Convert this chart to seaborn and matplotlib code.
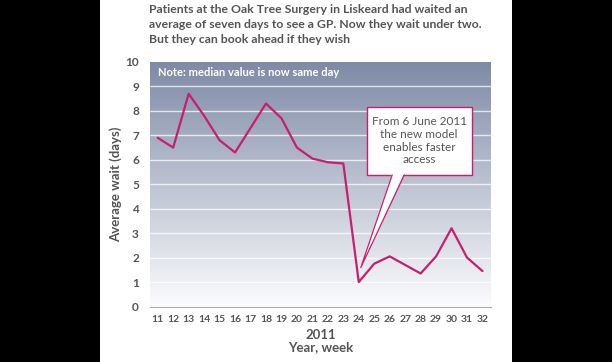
import numpy as np
import pandas as pd
import matplotlib
matplotlib.use("Agg")
import matplotlib.pyplot as plt
import seaborn as sns
from matplotlib.patches import Rectangle, Polygon, FancyBboxPatch

weeks = list(range(11, 33))
wait_days = [6.9, 6.5, 8.7, 7.8, 6.8, 6.3, 7.3, 8.3, 7.7, 6.5, 6.05, 5.9, 5.85,
             1.0, 1.75, 2.05, 1.7, 1.35, 2.05, 3.2, 2.0, 1.45]
y_ticks = list(range(0, 11))

title = ("Patients at the Oak Tree Surgery in Liskeard had waited an\n"
         "average of seven days to see a GP. Now they wait under two.\n"
         "But they can book ahead if they wish")
note = "Note: median value is now same day"
callout = "From 6 June 2011\nthe new model\nenables faster\naccess"

sns.set_theme(style="white")
plt.rcParams['font.family'] = ['Lato', 'DejaVu Sans']

grey = "#555555"
pink = "#c81e6e"

fig = plt.figure(figsize=(6.12, 3.62), dpi=100)
fig.patch.set_facecolor("black")
fig.patches.append(Rectangle((100/612, 0), 412/612, 1, transform=fig.transFigure,
                             facecolor="white", edgecolor="none", zorder=-10))

ax = fig.add_axes([150/612, 1 - 306.5/362, 341/612, 244.5/362])
ax.set_facecolor("none")

df = pd.DataFrame({"week": weeks, "wait": wait_days})

# gradient background
grad = np.linspace(0, 1, 256).reshape(-1, 1)
top = np.array([126, 138, 166]) / 255
bot = np.array([252, 252, 254]) / 255
img = top[None, None, :] * (1 - grad[:, :, None]) + bot[None, None, :] * grad[:, :, None]
ax.imshow(img, extent=[0, 1, 0, 1], transform=ax.transAxes, aspect="auto", zorder=0)

for v in y_ticks[1:-1]:
    ax.axhline(v, color="white", lw=1.0, alpha=0.75, zorder=1)

sns.lineplot(data=df, x="week", y="wait", color=pink, lw=1.6, ax=ax, zorder=3)

ax.set_xlim(10.5, 32.55)
ax.set_ylim(0, 10)
ax.set_yticks(y_ticks)
ax.set_yticklabels([str(t) for t in y_ticks], fontsize=8.5, fontweight="bold", color=grey)
ax.set_xticks(weeks)
ax.set_xticklabels([str(w) for w in weeks], fontsize=7.5, fontweight="bold", color=grey)
ax.set_xticks(np.arange(10.5, 33, 1), minor=True)
ax.tick_params(axis="x", which="major", length=0, pad=6)
ax.tick_params(axis="x", which="minor", length=4, color="#888888", width=0.8, direction="out")
ax.tick_params(axis="y", length=0, pad=8)
for s in ["top", "right", "left"]:
    ax.spines[s].set_visible(False)
ax.spines["bottom"].set_color("#aaaaaa")
ax.spines["bottom"].set_linewidth(0.8)

ax.set_xlabel("2011\nYear, week", fontsize=9.5, fontweight="bold", color=grey, labelpad=4,
              linespacing=1.0)
ax.set_ylabel("Average wait (days)", fontsize=9.5, fontweight="bold", color=grey, labelpad=2)

ax.text(11.0, 9.57, note, fontsize=8.0, fontweight="bold", color="white", va="center", ha="left", zorder=4)

# callout box
box = FancyBboxPatch((24.5, 5.38), 6.8, 2.79, boxstyle="square,pad=0", facecolor="white",
                     edgecolor=pink, lw=1.0, zorder=5)
ax.add_patch(box)
ax.add_patch(Polygon([(26.16, 5.45), (26.94, 5.45), (24.13, 1.59)], closed=True,
                     facecolor="white", edgecolor="none", zorder=6))
ax.plot([26.16, 24.13, 26.94], [5.38, 1.59, 5.38], color=pink, lw=0.9, zorder=6)
ax.text(27.9, 6.78, callout, fontsize=8.5, color=grey, ha="center", va="center",
        linespacing=1.2, zorder=7)

fig.text(149/612, 1 - 4/362, title, fontsize=8.8, fontweight="bold", color=grey,
         ha="left", va="top", linespacing=1.45)

fig.savefig("out.png", dpi=100, facecolor=fig.get_facecolor())
